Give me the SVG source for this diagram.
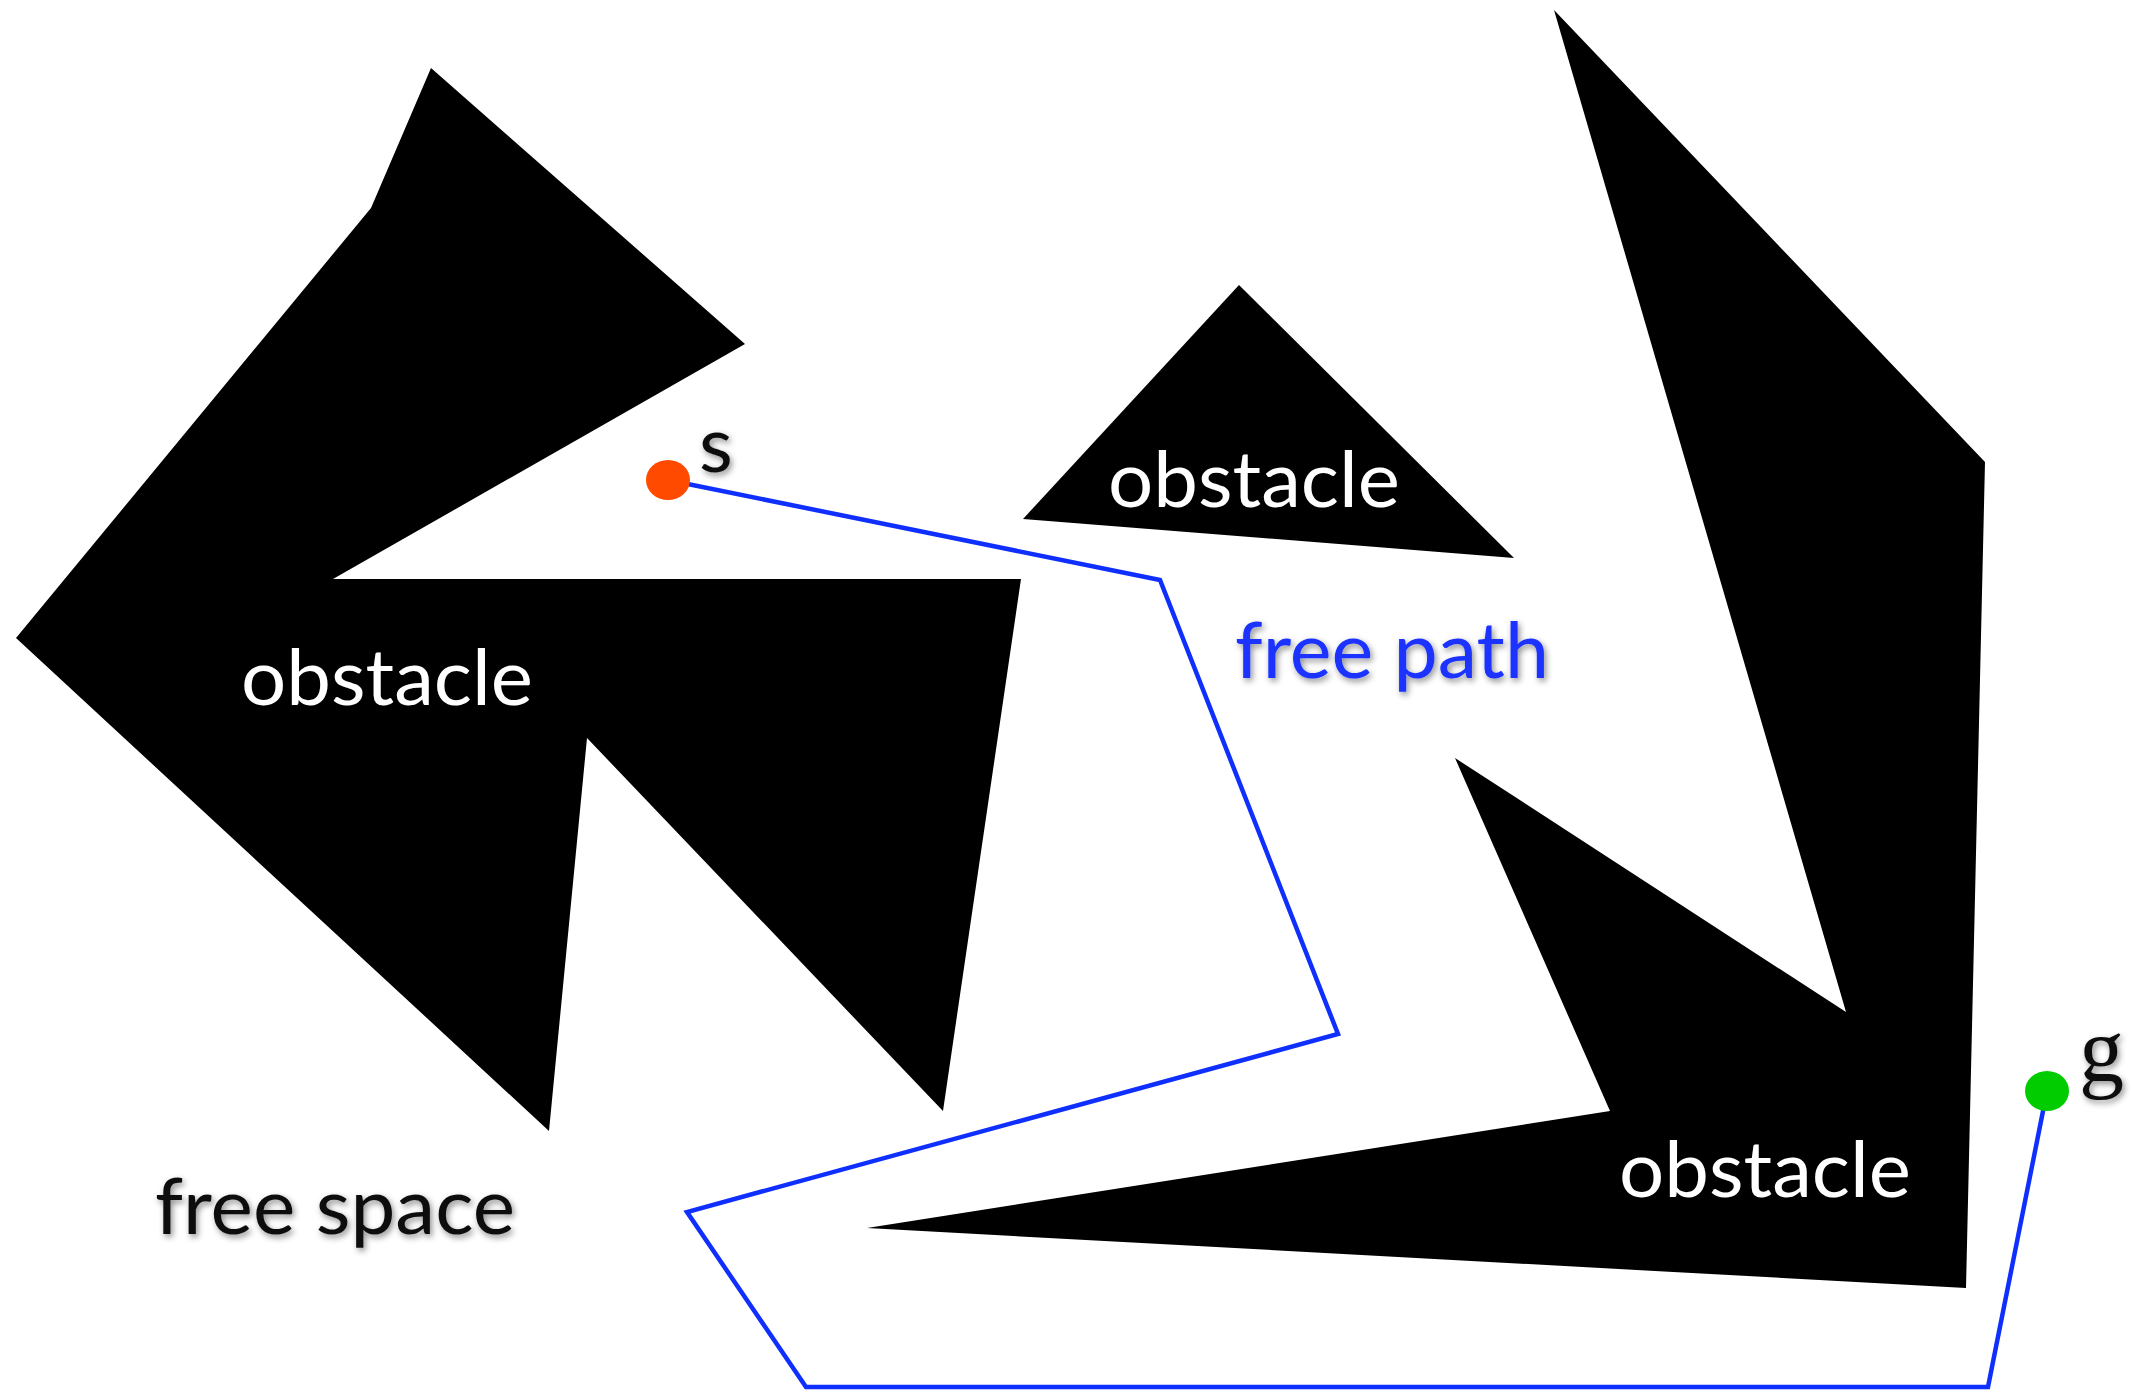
<svg xmlns="http://www.w3.org/2000/svg" width="2132" height="1392" viewBox="0 0 2132 1392">
<defs>
<style>
.obs{fill:#000;stroke:none}
.lbl{font-family:Lato,"Open Sans","Liberation Sans",sans-serif;font-size:78px}
.white{fill:#fff}
.dark{fill:#111}
.blue{fill:#1a33ff}
.path{fill:none;stroke:#0f2fff;stroke-width:4.5;stroke-linejoin:miter}
</style>
<filter id="sh" x="-10%" y="-20%" width="130%" height="150%">
<feDropShadow dx="2" dy="3" stdDeviation="3" flood-color="#000" flood-opacity="0.45"/>
</filter>
</defs>
<rect width="2132" height="1392" fill="#fff"/>
<g id="obstacle-left">
<polygon class="obs" points="431,68 745,344 333,579 1021,579 943,1111 587,738 549,1131 16,638 371,208"/>
<text class="lbl white" x="241" y="705" textLength="292" lengthAdjust="spacingAndGlyphs">obstacle</text>
</g>
<g id="obstacle-triangle">
<polygon class="obs" points="1239,285 1514,558 1023,519"/>
<text class="lbl white" x="1108" y="507" textLength="292" lengthAdjust="spacingAndGlyphs">obstacle</text>
</g>
<g id="obstacle-right">
<polygon class="obs" points="1554,10 1985,462 1966,1288 867,1228 1610,1111 1455,758 1846,1012"/>
<text class="lbl white" x="1619" y="1197" textLength="292" lengthAdjust="spacingAndGlyphs">obstacle</text>
</g>
<g id="connectors">
<polyline class="path" points="668,480 1160,580 1338,1034 687,1212 806,1387 1988,1387 2047,1091"/>
</g>
<g id="start">
<ellipse cx="668" cy="480" rx="22" ry="20" fill="#ff4a00"/>
<text class="lbl dark" x="699" y="472" filter="url(#sh)">s</text>
</g>
<g id="goal">
<ellipse cx="2047" cy="1091" rx="22" ry="20" fill="#00cc00"/>
<text x="2079" y="1081" font-family="'Liberation Serif',serif" font-size="90" fill="#111" filter="url(#sh)">g</text>
</g>
<g id="free-path-label">
<text class="lbl blue" x="1235" y="678" font-size="82" textLength="314" lengthAdjust="spacingAndGlyphs" filter="url(#sh)">free path</text>
</g>
<g id="free-space-label">
<text class="lbl dark" x="155" y="1234" textLength="360" lengthAdjust="spacingAndGlyphs" filter="url(#sh)">free space</text>
</g>
</svg>
